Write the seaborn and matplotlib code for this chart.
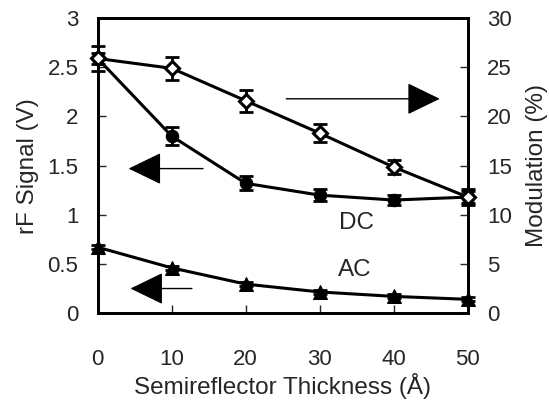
import numpy as np
import seaborn as sns
import pandas as pd
import matplotlib.pyplot as plt

thickness = [0, 10, 20, 30, 40, 50]
dc_signal = [2.59, 1.80, 1.32, 1.20, 1.15, 1.18]
dc_err = [0.06, 0.09, 0.07, 0.06, 0.05, 0.06]
ac_signal = [0.67, 0.46, 0.295, 0.215, 0.17, 0.14]
ac_err = [0.02, 0.02, 0.02, 0.02, 0.02, 0.02]
modulation = [25.9, 24.9, 21.6, 18.3, 14.85, 11.8]
mod_err = [1.3, 1.2, 1.1, 0.9, 0.7, 0.8]

sns.set_theme(style="ticks")
plt.rcParams['font.family'] = ['Liberation Sans', 'DejaVu Sans']

df = pd.DataFrame({"t": thickness, "dc": dc_signal, "ac": ac_signal, "mod": modulation})

fig = plt.figure(figsize=(5.49, 4.04), dpi=100)
ax = fig.add_axes([0.178, 0.225, 0.674, 0.73])
ax2 = ax.twinx()

fs = 16
lfs = 17.5
kw = dict(color="black", lw=2.2, clip_on=False, zorder=3)
ekw = dict(fmt="none", ecolor="black", elinewidth=2, capsize=5, capthick=2, clip_on=False)

sns.lineplot(data=df, x="t", y="dc", ax=ax, marker="o", markersize=9,
             markeredgecolor="black", markerfacecolor="black", **kw)
ax.errorbar(thickness, dc_signal, yerr=dc_err, **ekw)
sns.lineplot(data=df, x="t", y="ac", ax=ax, marker="^", markersize=10,
             markeredgecolor="black", markerfacecolor="black", **kw)
ax.errorbar(thickness, ac_signal, yerr=ac_err, **ekw)
sns.lineplot(data=df, x="t", y="mod", ax=ax2, marker="D", markersize=7,
             markeredgecolor="black", markerfacecolor="white", mew=2.2, **kw)
ax2.errorbar(thickness, modulation, yerr=mod_err, **ekw)

ax.set_xlim(0, 50)
ax.set_ylim(0, 3)
ax2.set_ylim(0, 30)
ax.set_xticks([0, 10, 20, 30, 40, 50])
ax.set_yticks([0, 0.5, 1, 1.5, 2, 2.5, 3])
ax.set_yticklabels(["0", "0.5", "1", "1.5", "2", "2.5", "3"])
ax2.set_yticks([0, 5, 10, 15, 20, 25, 30])

ax.tick_params(axis="both", direction="in", length=6, width=1, labelsize=fs, pad=14)
ax.tick_params(axis="x", pad=26)
ax2.tick_params(axis="y", direction="in", length=6, width=1, labelsize=fs, pad=14)

for a in (ax, ax2):
    for s in a.spines.values():
        s.set_linewidth(2)
        s.set_color("black")
        s.set_visible(True)

ax.set_xlabel("Semireflector Thickness (Å)", fontsize=lfs, labelpad=2)
ax.set_ylabel("rF Signal (V)", fontsize=lfs, labelpad=6)
ax2.set_ylabel("Modulation (%)", fontsize=lfs, labelpad=10)

# direction arrows
astyle = dict(arrowstyle="-|>,head_length=1.75,head_width=0.85", color="black", lw=1)
ax.annotate("", xy=(46.6, 2.18), xytext=(25.1, 2.18), arrowprops=astyle)
ax.annotate("", xy=(3.8, 1.47), xytext=(14.6, 1.47), arrowprops=astyle)
ax.annotate("", xy=(4.05, 0.25), xytext=(13.1, 0.25), arrowprops=astyle)

ax.text(35.0, 0.92, "DC", fontsize=lfs, ha="center", va="center")
ax.text(34.7, 0.44, "AC", fontsize=lfs, ha="center", va="center")

plt.savefig("out.png", dpi=100)
